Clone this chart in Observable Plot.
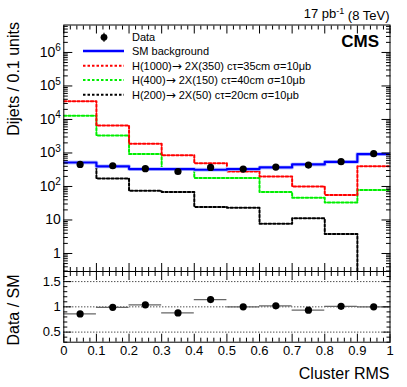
<!DOCTYPE html>
<html><head><meta charset="utf-8">
<script src="https://cdn.jsdelivr.net/npm/d3@7"></script>
<script src="https://cdn.jsdelivr.net/npm/@observablehq/plot@0.6"></script>
<style>
body{margin:0;background:#fff;font-family:"Liberation Sans",Arial,sans-serif;}
#wrap{position:relative;width:407px;height:387px;overflow:hidden}
#wrap svg{position:absolute;left:0;overflow:visible;font-family:"Liberation Sans",Arial,sans-serif}
</style></head><body><div id="wrap"></div>
<script>
const binEdges = [0,0.1,0.2,0.3,0.4,0.5,0.6,0.7,0.8,0.9,1.0];
const dataCounts = [455,415,340,280,370,330,380,436,550,950];
const smBackground = [520,400,330,330,316,330,370,455,540,930];
const sigH1000 = [35000,6600,1900,850,490,280,200,100,56,400];
const sigH400 = [13000,3300,930,345,178,178,68,46,33,79];
const sigH200 = [500,173,74,68,24.6,23,7.7,11.2,3.8,0.01];
const ratioVals = [0.86,0.99,1.04,0.88,1.145,1.0,1.02,0.935,1.01,1.0];
const ratioErr = [0.04,0.04,0.045,0.04,0.06,0.045,0.045,0.04,0.04,0.035];
const xTicks = [0,0.1,0.2,0.3,0.4,0.5,0.6,0.7,0.8,0.9,1];
const yTicks = [1,10,100,1e3,1e4,1e5,1e6];
const ratioTicks = [0.5,1,1.5];
const legendLabels = ["Data","SM background","H(1000)\u2192 2X(350) c\u03c4=35cm \u03c3=10\u03bcb","H(400)\u2192 2X(150) c\u03c4=40cm \u03c3=10\u03bcb","H(200)\u2192 2X(50) c\u03c4=20cm \u03c3=10\u03bcb"];

(function(){
const FF="Liberation Sans, Arial, sans-serif";
const centers = binEdges.slice(0,-1).map((e,i)=>(e+binEdges[i+1])/2);
function steps(vals){const p=[];vals.forEach((v,i)=>{p.push({x:binEdges[i],y:v});p.push({x:binEdges[i+1],y:v});});return p;}
const pts = centers.map((c,i)=>({x:c,y:dataCounts[i],lo:dataCounts[i]*(1-ratioErr[i]),hi:dataCounts[i]*(1+ratioErr[i]),r:ratioVals[i],rlo:ratioVals[i]-ratioErr[i],rhi:ratioVals[i]+ratioErr[i],x1:binEdges[i],x2:binEdges[i+1]}));

const xMinor = d3.range(0,1.0001,0.02).map(v=>+v.toFixed(2)).filter(v=>Math.abs(v*10-Math.round(v*10))>1e-6);
const yMinor = [];
for(let d=-1; d<=6; d++) for(let k=2;k<=9;k++){const v=k*Math.pow(10,d); if(v>0.29 && v<6.6e6) yMinor.push(v);}
const rMinor = d3.range(0.3,1.71,0.1).map(v=>+v.toFixed(2)).filter(v=>!ratioTicks.includes(v));

const W=407, mL=63.3, mR=407-389.5;
const ax = (o)=>Object.assign({label:null},o);
const main = Plot.plot({
  width:W, height:275, marginLeft:mL, marginRight:mR, marginTop:24.5, marginBottom:4,
  style:{fontFamily:FF, background:"transparent"},
  x:{domain:[0,1], label:null},
  y:{type:"log", domain:[0.29,6.6e6], label:null},
  marks:[
    Plot.line(steps(sigH200),{x:"x",y:"y",stroke:"#000",strokeWidth:2,strokeDasharray:"2.5,2",clip:true}),
    Plot.line(steps(sigH400),{x:"x",y:"y",stroke:"#00ee00",strokeWidth:2,strokeDasharray:"2.5,2",clip:true}),
    Plot.line(steps(sigH1000),{x:"x",y:"y",stroke:"#ff0000",strokeWidth:2,strokeDasharray:"2.5,2",clip:true}),
    Plot.line(steps(smBackground),{x:"x",y:"y",stroke:"#c4ccff",strokeWidth:4,clip:true}),
    Plot.line(steps(smBackground),{x:"x",y:"y",stroke:"#0000ff",strokeWidth:2.2,clip:true}),
    Plot.ruleX(pts,{x:"x",y1:"lo",y2:"hi",stroke:"#000",strokeWidth:1.2}),
    Plot.dot(pts,{x:"x",y:"y",r:3.6,fill:"#000",stroke:"none"}),
    Plot.axisX(ax({anchor:"bottom",ticks:xTicks,tickSize:-8,tickFormat:()=>""})),
    Plot.axisX(ax({anchor:"bottom",ticks:xMinor,tickSize:-4,tickFormat:()=>""})),
    Plot.axisX(ax({anchor:"top",ticks:xTicks,tickSize:-8,tickFormat:()=>""})),
    Plot.axisX(ax({anchor:"top",ticks:xMinor,tickSize:-4,tickFormat:()=>""})),
    Plot.axisY(ax({anchor:"left",ticks:yTicks,tickSize:-9,tickPadding:12,fontSize:14,tickFormat:d=>d===1?"1":d===10?"10":"10^"+Math.round(Math.log10(d))})),
    Plot.axisY(ax({anchor:"left",ticks:yMinor,tickSize:-4.5,tickFormat:()=>""})),
    Plot.axisY(ax({anchor:"right",ticks:yTicks,tickSize:-9,tickFormat:()=>""})),
    Plot.axisY(ax({anchor:"right",ticks:yMinor,tickSize:-4.5,tickFormat:()=>""})),
    Plot.frame({stroke:"#000",strokeWidth:1})
  ]
});
main.style.top="0px";
d3.select(main).selectAll("text").each(function(){
  const t=d3.select(this); const s=t.text();
  if(/^10\^\d$/.test(s)){ t.text(""); t.append("tspan").text("10"); t.append("tspan").attr("dy","-0.55em").attr("font-size","10px").text(s.split("^")[1]); }
});
const lg = d3.select(main).append("g").attr("font-family",FF).attr("font-size","11px").attr("text-anchor","start");
const rowsY=[37.3,51,65.7,80,94.7];
const styles=[null,{c:"#0000ff",w:2.5,d:null},{c:"#ff0000",w:2,d:"2.5,2"},{c:"#00ee00",w:2,d:"2.5,2"},{c:"#000",w:2,d:"2.5,2"}];
legendLabels.forEach((lab,i)=>{
  const y=rowsY[i];
  if(i===0){ lg.append("line").attr("x1",104).attr("x2",104).attr("y1",y-4.5).attr("y2",y+4.5).attr("stroke","#000").attr("stroke-width",1.2); lg.append("circle").attr("cx",104).attr("cy",y).attr("r",3.4); }
  else { const s=styles[i]; const l=lg.append("line").attr("x1",83).attr("x2",124).attr("y1",y).attr("y2",y).attr("stroke",s.c).attr("stroke-width",s.w); if(s.d) l.attr("stroke-dasharray",s.d); }
  const t = lg.append("text").attr("x",132).attr("y",y).attr("dy","0.36em").attr("text-anchor","start");
  const parts = lab.split("\u2192");
  t.append("tspan").text(parts[0]);
  if(parts.length>1){
    t.append("tspan").attr("font-family","DejaVu Sans, sans-serif").attr("font-size","12px").text("\u2192");
    t.append("tspan").text(parts[1]);
  }
});
d3.select(main).append("text").attr("x",379).attr("y",41).attr("dy","0.36em").attr("text-anchor","end").attr("font-weight","bold").attr("font-size","17px").attr("font-family",FF).text("CMS");
const lumi = d3.select(main).append("text").attr("x",389.5).attr("y",18).attr("text-anchor","end").attr("font-size","13px").attr("font-family",FF);
lumi.append("tspan").text("17 pb");
lumi.append("tspan").attr("dy","-0.5em").attr("font-size","9px").text("-1");
lumi.append("tspan").attr("dy","0.5em").text(" (8 TeV)");
d3.select(main).append("text").attr("transform","translate(19,22) rotate(-90)").attr("text-anchor","end").attr("font-size","16px").attr("font-family",FF).text("Dijets / 0.1 units");

const ratioPlot = Plot.plot({
  width:W, height:387-266, marginLeft:mL, marginRight:mR, marginTop:5, marginBottom:387-341.7,
  style:{fontFamily:FF, background:"transparent"},
  x:{domain:[0,1], label:null},
  y:{domain:[0.3,1.7], label:null},
  marks:[
    Plot.ruleY(ratioTicks,{stroke:"#000",strokeWidth:1,strokeDasharray:"1,2"}),
    Plot.ruleY(pts,{y:"r",x1:"x1",x2:"x2",stroke:"#666",strokeWidth:1.2}),
    Plot.ruleX(pts,{x:"x",y1:"rlo",y2:"rhi",stroke:"#000",strokeWidth:1.2}),
    Plot.dot(pts,{x:"x",y:"r",r:3.6,fill:"#000",stroke:"none"}),
    Plot.axisX(ax({anchor:"bottom",ticks:xTicks,tickSize:-8,tickPadding:12,fontSize:13,tickFormat:d=>String(d)})),
    Plot.axisX(ax({anchor:"bottom",ticks:xMinor,tickSize:-4,tickFormat:()=>""})),
    Plot.axisX(ax({anchor:"top",ticks:xTicks,tickSize:-8,tickFormat:()=>""})),
    Plot.axisX(ax({anchor:"top",ticks:xMinor,tickSize:-4,tickFormat:()=>""})),
    Plot.axisY(ax({anchor:"left",ticks:ratioTicks,tickSize:-8,tickPadding:11,fontSize:13,tickFormat:d=>String(d)})),
    Plot.axisY(ax({anchor:"left",ticks:rMinor,tickSize:-4,tickFormat:()=>""})),
    Plot.axisY(ax({anchor:"right",ticks:ratioTicks,tickSize:-8,tickFormat:()=>""})),
    Plot.axisY(ax({anchor:"right",ticks:rMinor,tickSize:-4,tickFormat:()=>""})),
    Plot.frame({stroke:"#000",strokeWidth:1})
  ]
});
ratioPlot.style.top="266px";
d3.select(ratioPlot).append("text").attr("transform","translate(19,44) rotate(-90)").attr("text-anchor","middle").attr("font-size","16px").attr("font-family",FF).text("Data / SM");
d3.select(ratioPlot).append("text").attr("x",389.5).attr("y",113).attr("text-anchor","end").attr("font-size","16px").attr("font-family",FF).text("Cluster RMS");

const wrap=document.getElementById("wrap");
wrap.appendChild(main);
wrap.appendChild(ratioPlot);
})();
</script></body></html>
